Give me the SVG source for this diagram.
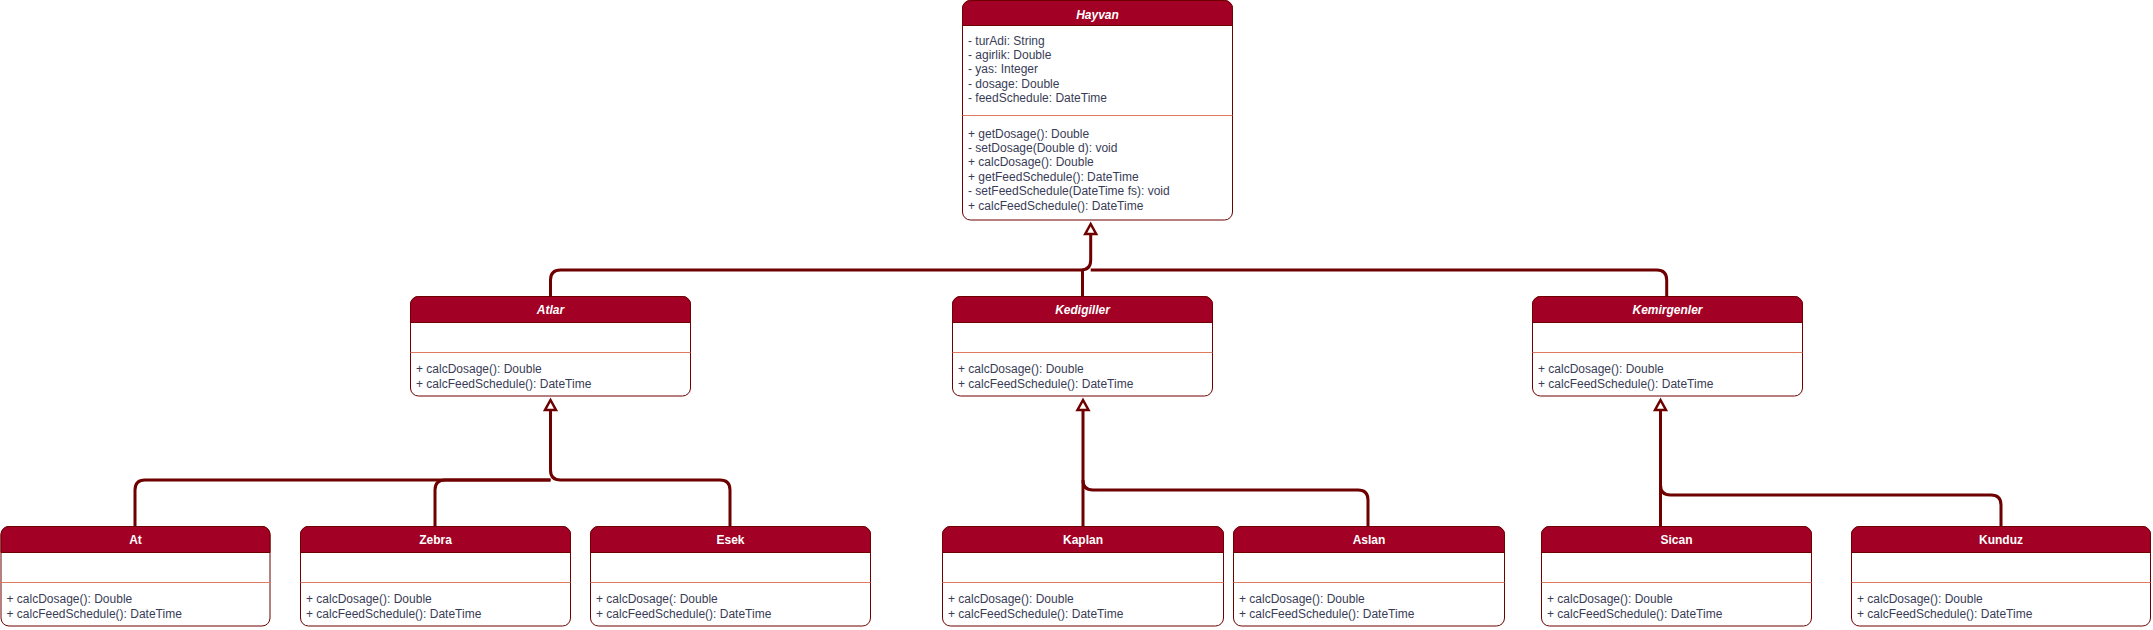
<svg xmlns="http://www.w3.org/2000/svg" xmlns:xlink="http://www.w3.org/1999/xlink" width="2153" height="630" viewBox="0 0 2153 630">
<style>
.box{fill:#ffffff;stroke:#6F0000;stroke-width:1}
.hdr{fill:#A20025;stroke:#6F0000;stroke-width:1}
.sep{stroke:#E07A5F;stroke-width:1}
.title{font-family:"Liberation Sans",Arial,sans-serif;font-size:12px;font-weight:bold;fill:#ffffff;text-anchor:middle}
.abs{font-style:italic}
.mem{font-family:"Liberation Sans",Arial,sans-serif;font-size:12px;fill:#393C56}
.edge{fill:none;stroke:#6F0000;stroke-width:3}
.tri{fill:#ffffff;stroke:#6F0000;stroke-width:2.5;stroke-linejoin:miter}
</style>
<defs>
<path id="tri" d="M0,0 L5.5,10 L-5.5,10 Z"/>
</defs>
<rect width="2153" height="630" fill="#ffffff"/>

<g id="connectors">
<path class="edge" d="M550.5,296.5 V280 Q550.5,270 560.5,270 H1080.7 Q1090.7,270 1090.7,260 V234"/>
<path class="edge" d="M1082.5,296.5 V270"/>
<path class="edge" d="M1666.7,296.5 V280 Q1666.7,270 1656.7,270 H1090.7"/>
<path class="edge" d="M135,526.5 V490 Q135,480 145,480 H550.5"/>
<path class="edge" d="M435,526.5 V490 Q435,480 445,480 H550.5"/>
<path class="edge" d="M730,526.5 V490 Q730,480 720,480 H560.5 Q550.5,480 550.5,470 V410"/>
<path class="edge" d="M1083,526.5 V410"/>
<path class="edge" d="M1368,526.5 V500 Q1368,490 1358,490 H1093 Q1083,490 1083,480"/>
<path class="edge" d="M1660.5,526.5 V410"/>
<path class="edge" d="M2001,526.5 V505 Q2001,495 1991,495 H1670.5 Q1660.5,495 1660.5,485"/>
<use xlink:href="#tri" href="#tri" class="tri" x="1090.7" y="224"/>
<use xlink:href="#tri" href="#tri" class="tri" x="550.5" y="400"/>
<use xlink:href="#tri" href="#tri" class="tri" x="1083" y="400"/>
<use xlink:href="#tri" href="#tri" class="tri" x="1660.5" y="400"/>
</g>

<g id="hayvan" transform="translate(962.5,0.5)">
<rect class="box" x="0" y="0" width="270" height="219.5" rx="8"/>
<path class="hdr" d="M0,25 V8 A8,8 0 0 1 8,0 H262 A8,8 0 0 1 270,8 V25 Z"/>
<line class="sep" x1="0" y1="115" x2="270" y2="115"/>
<text class="title abs" x="135" y="18">Hayvan</text>
<text class="mem" x="5.5" y="44">- turAdi: String</text>
<text class="mem" x="5.5" y="58.4">- agirlik: Double</text>
<text class="mem" x="5.5" y="72.8">- yas: Integer</text>
<text class="mem" x="5.5" y="87.2">- dosage: Double</text>
<text class="mem" x="5.5" y="101.6">- feedSchedule: DateTime</text>
<text class="mem" x="5.5" y="137">+ getDosage(): Double</text>
<text class="mem" x="5.5" y="151.4">- setDosage(Double d): void</text>
<text class="mem" x="5.5" y="165.8">+ calcDosage(): Double</text>
<text class="mem" x="5.5" y="180.2">+ getFeedSchedule(): DateTime</text>
<text class="mem" x="5.5" y="194.6">- setFeedSchedule(DateTime fs): void</text>
<text class="mem" x="5.5" y="209">+ calcFeedSchedule(): DateTime</text>
</g>

<g id="atlar" transform="translate(410.5,296.5)">
<rect class="box" x="0" y="0" width="280" height="99.5" rx="8"/>
<path class="hdr" d="M0,26 V8 A8,8 0 0 1 8,0 H272 A8,8 0 0 1 280,8 V26 Z"/>
<line class="sep" x1="0" y1="56" x2="280" y2="56"/>
<text class="title abs" x="140" y="17.5">Atlar</text>
<text class="mem" x="5.5" y="76.5">+ calcDosage(): Double</text>
<text class="mem" x="5.5" y="91">+ calcFeedSchedule(): DateTime</text>
</g>

<g id="kedigiller" transform="translate(952.5,296.5)">
<rect class="box" x="0" y="0" width="260" height="99.5" rx="8"/>
<path class="hdr" d="M0,26 V8 A8,8 0 0 1 8,0 H252 A8,8 0 0 1 260,8 V26 Z"/>
<line class="sep" x1="0" y1="56" x2="260" y2="56"/>
<text class="title abs" x="130" y="17.5">Kedigiller</text>
<text class="mem" x="5.5" y="76.5">+ calcDosage(): Double</text>
<text class="mem" x="5.5" y="91">+ calcFeedSchedule(): DateTime</text>
</g>

<g id="kemirgenler" transform="translate(1532.5,296.5)">
<rect class="box" x="0" y="0" width="270" height="99.5" rx="8"/>
<path class="hdr" d="M0,26 V8 A8,8 0 0 1 8,0 H262 A8,8 0 0 1 270,8 V26 Z"/>
<line class="sep" x1="0" y1="56" x2="270" y2="56"/>
<text class="title abs" x="135" y="17.5">Kemirgenler</text>
<text class="mem" x="5.5" y="76.5">+ calcDosage(): Double</text>
<text class="mem" x="5.5" y="91">+ calcFeedSchedule(): DateTime</text>
</g>

<g id="at" transform="translate(1,526.5)">
<rect class="box" x="0" y="0" width="269" height="99.5" rx="8"/>
<path class="hdr" d="M0,26 V8 A8,8 0 0 1 8,0 H261 A8,8 0 0 1 269,8 V26 Z"/>
<line class="sep" x1="0" y1="56" x2="269" y2="56"/>
<text class="title" x="134.5" y="17.5">At</text>
<text class="mem" x="5.5" y="76.5">+ calcDosage(): Double</text>
<text class="mem" x="5.5" y="91">+ calcFeedSchedule(): DateTime</text>
</g>

<g id="zebra" transform="translate(300.5,526.5)">
<rect class="box" x="0" y="0" width="270" height="99.5" rx="8"/>
<path class="hdr" d="M0,26 V8 A8,8 0 0 1 8,0 H262 A8,8 0 0 1 270,8 V26 Z"/>
<line class="sep" x1="0" y1="56" x2="270" y2="56"/>
<text class="title" x="135" y="17.5">Zebra</text>
<text class="mem" x="5.5" y="76.5">+ calcDosage(): Double</text>
<text class="mem" x="5.5" y="91">+ calcFeedSchedule(): DateTime</text>
</g>

<g id="esek" transform="translate(590.5,526.5)">
<rect class="box" x="0" y="0" width="280" height="99.5" rx="8"/>
<path class="hdr" d="M0,26 V8 A8,8 0 0 1 8,0 H272 A8,8 0 0 1 280,8 V26 Z"/>
<line class="sep" x1="0" y1="56" x2="280" y2="56"/>
<text class="title" x="140" y="17.5">Esek</text>
<text class="mem" x="5.5" y="76.5">+ calcDosage(: Double</text>
<text class="mem" x="5.5" y="91">+ calcFeedSchedule(): DateTime</text>
</g>

<g id="kaplan" transform="translate(942.5,526.5)">
<rect class="box" x="0" y="0" width="281" height="99.5" rx="8"/>
<path class="hdr" d="M0,26 V8 A8,8 0 0 1 8,0 H273 A8,8 0 0 1 281,8 V26 Z"/>
<line class="sep" x1="0" y1="56" x2="281" y2="56"/>
<text class="title" x="140.5" y="17.5">Kaplan</text>
<text class="mem" x="5.5" y="76.5">+ calcDosage(): Double</text>
<text class="mem" x="5.5" y="91">+ calcFeedSchedule(): DateTime</text>
</g>

<g id="aslan" transform="translate(1233.5,526.5)">
<rect class="box" x="0" y="0" width="271" height="99.5" rx="8"/>
<path class="hdr" d="M0,26 V8 A8,8 0 0 1 8,0 H263 A8,8 0 0 1 271,8 V26 Z"/>
<line class="sep" x1="0" y1="56" x2="271" y2="56"/>
<text class="title" x="135.5" y="17.5">Aslan</text>
<text class="mem" x="5.5" y="76.5">+ calcDosage(): Double</text>
<text class="mem" x="5.5" y="91">+ calcFeedSchedule(): DateTime</text>
</g>

<g id="sican" transform="translate(1541.5,526.5)">
<rect class="box" x="0" y="0" width="270" height="99.5" rx="8"/>
<path class="hdr" d="M0,26 V8 A8,8 0 0 1 8,0 H262 A8,8 0 0 1 270,8 V26 Z"/>
<line class="sep" x1="0" y1="56" x2="270" y2="56"/>
<text class="title" x="135" y="17.5">Sican</text>
<text class="mem" x="5.5" y="76.5">+ calcDosage(): Double</text>
<text class="mem" x="5.5" y="91">+ calcFeedSchedule(): DateTime</text>
</g>

<g id="kunduz" transform="translate(1851.5,526.5)">
<rect class="box" x="0" y="0" width="299" height="99.5" rx="8"/>
<path class="hdr" d="M0,26 V8 A8,8 0 0 1 8,0 H291 A8,8 0 0 1 299,8 V26 Z"/>
<line class="sep" x1="0" y1="56" x2="299" y2="56"/>
<text class="title" x="149.5" y="17.5">Kunduz</text>
<text class="mem" x="5.5" y="76.5">+ calcDosage(): Double</text>
<text class="mem" x="5.5" y="91">+ calcFeedSchedule(): DateTime</text>
</g>
</svg>
